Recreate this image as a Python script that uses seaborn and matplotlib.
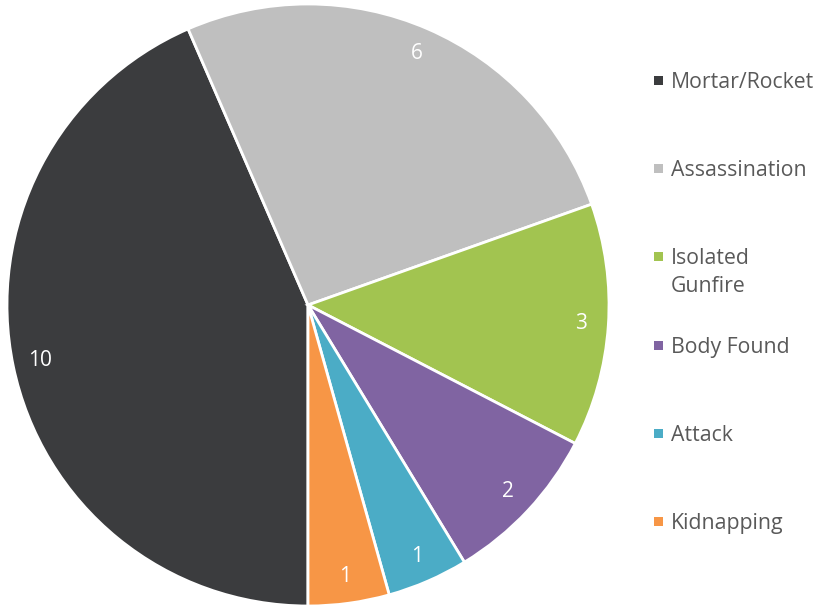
import matplotlib
matplotlib.use("Agg")
import matplotlib.pyplot as plt
import seaborn as sns
from matplotlib.patches import Rectangle

categories = ["Mortar/Rocket", "Assassination", "Isolated\nGunfire", "Body Found", "Attack", "Kidnapping"]
values = [10, 6, 3, 2, 1, 1]
colors = ["#3B3C3E", "#BFBFBF", "#A2C450", "#8064A2", "#4BACC6", "#F79646"]

sns.set_theme(style="white")
plt.rcParams["font.family"] = ["Open Sans", "DejaVu Sans"]

W, H = 817, 609
fig = plt.figure(figsize=(W / 100, H / 100), dpi=100)
fig.patch.set_facecolor("white")

cx, cy, r = 308, 305, 301
ax = fig.add_axes([(cx - r) / W, 1 - (cy + r) / H, 2 * r / W, 2 * r / H])
total = sum(values)
wedges, texts, autotexts = ax.pie(
    values,
    colors=colors,
    startangle=-90,
    counterclock=False,
    radius=1.0,
    autopct=lambda p: f"{round(p * total / 100)}",
    pctdistance=0.91,
    wedgeprops=dict(edgecolor="white", linewidth=2.0),
    textprops=dict(color="white", fontsize=15),
)
ax.set_xlim(-1, 1)
ax.set_ylim(-1, 1)
ax.set_aspect("equal")
ax.axis("off")

# legend
leg_y = [80, 168, 256, 345, 433, 521]
for lab, col, y in zip(categories, colors, leg_y):
    fig.patches.append(Rectangle(((654) / W, 1 - (y + 5) / H), 9 / W, 9 / H,
                                 transform=fig.transFigure, facecolor=col,
                                 edgecolor="none"))
    fig.text(671 / W, 1 - (y - 8) / H, lab, ha="left", va="top", fontsize=15.3,
             color="#595959", linespacing=1.42)

fig.savefig("out.png", dpi=100, facecolor="white")
